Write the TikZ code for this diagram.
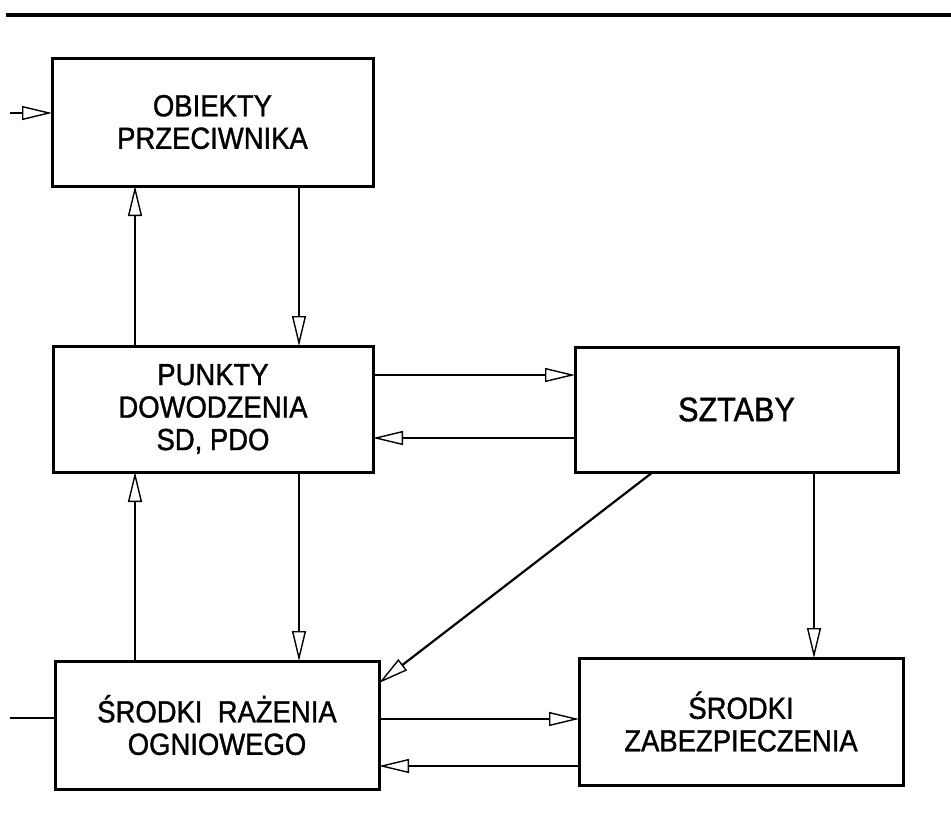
\documentclass[tikz,border=0pt]{standalone}
\usepackage{fontspec}
\setmainfont{Liberation Sans}
\newfontfamily\lab[FakeStretch=0.9,FakeBold=1.2]{Liberation Sans}
\usetikzlibrary{arrows.meta}
\tikzset{
  box/.style={draw, line width=3pt, outer sep=0pt, inner sep=0pt, align=center,
    font=\lab\fontsize{30.5}{32.5}\selectfont},
  arr/.style={line width=2.2pt, -{Triangle[open, length=30pt, width=14pt, line width=1.4pt]}},
  plain/.style={line width=2.2pt},
  rule/.style={line width=3.5pt}
}
\begin{document}
\begin{tikzpicture}[x=1pt,y=-1pt]
\useasboundingbox (0,0) rectangle (951,831);
% top rule
\coordinate (ruleL) at (6,15);
\coordinate (ruleR) at (951,15);
\draw[rule] (ruleL) -- (ruleR);
% boxes
\node[box, minimum width=321pt, minimum height=128pt] (obj) at (212.5,122) {OBIEKTY\\PRZECIWNIKA};
\node[box, minimum width=320pt, minimum height=126pt] (pun) at (213,409) {PUNKTY\\DOWODZENIA\\SD, PDO};
\node[box, minimum width=323pt, minimum height=125pt, font=\lab\fontsize{34}{36}\selectfont] (szt) at (736.5,409.5) {SZTABY};
\node[box, minimum width=324pt, minimum height=128pt] (raz) at (217,725) {ŚRODKI\hspace{0.5em}RAŻENIA\\OGNIOWEGO};
\node[box, minimum width=324pt, minimum height=127pt] (zab) at (741,721.5) {ŚRODKI\\ZABEZPIECZENIA};
% helper coordinates
\coordinate (cA) at (135,0);
\coordinate (cB) at (299,0);
\coordinate (cC) at (814,0);
\coordinate (cD) at (653,0);
\coordinate (rA) at (0,375);
\coordinate (rB) at (0,438);
\coordinate (rC) at (0,719);
\coordinate (rD) at (0,766);
\coordinate (rE) at (0,683);
\coordinate (inTop) at (10,113);
\coordinate (inBot) at (10,718);
% connectors
\draw[arr] (inTop) -- (obj.west |- inTop);
\draw[plain] (inBot) -- (raz.west |- inBot);
\draw[arr] (pun.north -| cA) -- (obj.south -| cA);
\draw[arr] (obj.south -| cB) -- (pun.north -| cB);
\draw[arr] (raz.north -| cA) -- (pun.south -| cA);
\draw[arr] (pun.south -| cB) -- (raz.north -| cB);
\draw[arr] (pun.east |- rA) -- (szt.west |- rA);
\draw[arr] (szt.west |- rB) -- (pun.east |- rB);
\draw[arr] (szt.south -| cC) -- (zab.north -| cC);
\draw[arr] (szt.south -| cD) -- (raz.east |- rE);
\draw[arr] (raz.east |- rC) -- (zab.west |- rC);
\draw[arr] (zab.west |- rD) -- (raz.east |- rD);
\end{tikzpicture}
\end{document}
